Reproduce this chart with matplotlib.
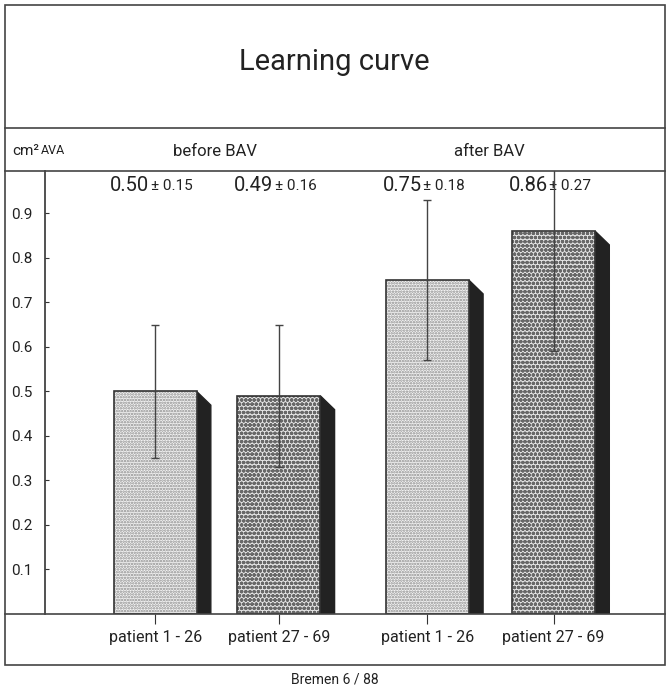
import matplotlib
matplotlib.use("Agg")
import matplotlib.pyplot as plt
from matplotlib.patches import Polygon, Rectangle
from matplotlib.lines import Line2D

plt.rcParams['font.family'] = ['Roboto', 'DejaVu Sans']
plt.rcParams['hatch.linewidth'] = 1.2

# data
labels = ["patient 1 - 26", "patient 27 - 69", "patient 1 - 26", "patient 27 - 69"]
means = [0.50, 0.49, 0.75, 0.86]
sds = [0.15, 0.16, 0.18, 0.27]
positions = [0, 1, 2.2, 3.22]
groups = ["before BAV", "after BAV"]
yticks = [0.1, 0.2, 0.3, 0.4, 0.5, 0.6, 0.7, 0.8, 0.9]

W, H = 669, 689
fig = plt.figure(figsize=(W / 100, H / 100), dpi=100)


def fx(px):
    return px / W


def fy(py):
    return 1 - py / H


# main plot area
ax = fig.add_axes([fx(45), fy(614), fx(665) - fx(45), fy(171) - fy(614)])
ax.set_xlim(-0.89, 4.12)
ax.set_ylim(0, 0.995)
for s in ["top", "right", "bottom"]:
    ax.spines[s].set_visible(False)
ax.spines["left"].set_linewidth(1.2)
ax.spines["left"].set_color("#333333")

width = 0.67
depth_x = 0.115
depth_y = 0.031
faces = ["#f4f4f4", "#e2e2e2", "#f4f4f4", "#e2e2e2"]
hatches = ["......", "oooo", "......", "oooo"]
hcols = ["#8c8c8c", "#686868", "#8c8c8c", "#686868"]

for x, m, fc, h, hc in zip(positions, means, faces, hatches, hcols):
    # side face (3d look)
    xr = x + width / 2
    ax.add_patch(Polygon([(xr, m), (xr + depth_x, m - depth_y),
                          (xr + depth_x, 0), (xr, 0)],
                         closed=True, facecolor="#222222", edgecolor="#222222", zorder=2))
    ax.bar(x, m, width, color=fc, hatch=h, edgecolor=hc, linewidth=0, zorder=2)
    ax.bar(x, m, width, fill=False, edgecolor="#333333", linewidth=1.2, zorder=3)

ax.errorbar(positions, means, yerr=sds, fmt="none", ecolor="#444444",
            elinewidth=1, capsize=3, capthick=1, zorder=4, clip_on=True)

for x, m, s in zip(positions, means, sds):
    ax.text(x - 0.045, 0.963, f"{m:.2f}", ha="right", va="center", fontsize=14.5, color="#222222")
    ax.text(x - 0.035, 0.962, f"\u00b1 {s:.2f}", ha="left", va="center", fontsize=11, color="#222222")

ax.set_yticks(yticks)
ax.set_yticklabels([f"{t:.1f}" for t in yticks], fontsize=11, color="#222222")
ax.tick_params(axis="y", direction="in", length=3, pad=9, color="#333333")
ax.set_xticks(positions)
ax.set_xticklabels([])
ax.tick_params(axis="x", direction="out", length=7, color="#333333")

# x labels below baseline
for x, lab in zip(positions, labels):
    ax.text(x, -0.052, lab, ha="center", va="center", fontsize=11.5, color="#222222",
            transform=ax.transData, clip_on=False)

# frame lines
lc = "#444444"
fig.add_artist(Rectangle((fx(5), fy(665)), fx(665) - fx(5), fy(5) - fy(665),
                         transform=fig.transFigure, fill=False, edgecolor=lc, linewidth=1.2))
for py in [128, 171, 614]:
    fig.add_artist(Line2D([fx(5), fx(665)], [fy(py), fy(py)], color=lc, linewidth=1.2))

# titles and headers
fig.text(fx(334), fy(62), "Learning curve", ha="center", va="center", fontsize=21, color="#222222")
fig.text(fx(12), fy(151), "cm\u00b2", ha="left", va="center", fontsize=11, color="#222222")
fig.text(fx(41), fy(151), "AVA", ha="left", va="center", fontsize=9, color="#222222")
fig.text(fx(215), fy(151), groups[0], ha="center", va="center", fontsize=12, color="#222222")
fig.text(fx(489), fy(151), groups[1], ha="center", va="center", fontsize=12, color="#222222")
fig.text(fx(335), fy(679), "Bremen 6 / 88", ha="center", va="center", fontsize=10, color="#222222")

fig.savefig("out.png", dpi=100)
